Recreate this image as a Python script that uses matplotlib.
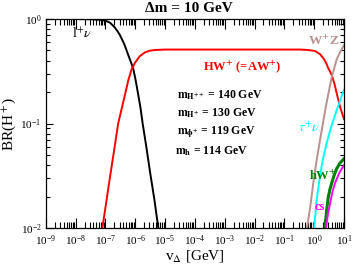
import matplotlib
matplotlib.use("Agg")
import matplotlib.pyplot as plt
import numpy as np
from matplotlib.ticker import LogLocator, LogFormatterMathtext, NullFormatter

plt.rcParams["font.family"] = ["Liberation Serif", "DejaVu Serif"]
plt.rcParams["mathtext.fontset"] = "stix"

# curves, x given as log10(v_Delta / GeV)
LNU_LOGV = [-9.0, -8.0, -7.5, -7.2, -7.0, -6.84, -6.7, -6.6, -6.51, -6.42, -6.35, -6.23, -6.14,
            -6.06, -5.98, -5.9, -5.82, -5.75, -5.62, -5.5, -5.36, -5.225]
LNU_BR = [1.0, 1.0, 0.995, 0.985, 0.965, 0.92, 0.84, 0.77, 0.70, 0.62, 0.56, 0.45, 0.385,
          0.33, 0.255, 0.19, 0.14, 0.10, 0.058, 0.034, 0.019, 0.01]

HW_LOGV = [-7.10, -7.0, -6.85, -6.7, -6.57, -6.45, -6.34, -6.23, -6.12, -6.01, -5.85, -5.67,
           -5.5, -5.34, -5.0, -4.0, -2.0, -1.0, -0.47, -0.2, 0.03, 0.2, 0.31, 0.4, 0.47, 0.59,
           0.68, 0.755, 0.866, 1.0]
HW_BR = [0.01, 0.0155, 0.030, 0.057, 0.10, 0.14, 0.19, 0.26, 0.33, 0.38, 0.44, 0.48,
         0.498, 0.505, 0.51, 0.51, 0.51, 0.51, 0.51, 0.505, 0.494, 0.46, 0.42, 0.38, 0.34, 0.29,
         0.24, 0.195, 0.145, 0.11]

WZ_LOGV = [-0.24, -0.13, -0.03, 0.08, 0.195, 0.31, 0.42, 0.59, 0.755, 0.88, 1.0]
WZ_BR = [0.01, 0.016, 0.027, 0.044, 0.069, 0.107, 0.16, 0.28, 0.41, 0.49, 0.56]

TAU_LOGV = [0.0, 0.085, 0.17, 0.25, 0.33, 0.42, 0.53, 0.64, 0.72, 0.81, 0.9, 1.0]
TAU_BR = [0.01, 0.0186, 0.028, 0.039, 0.051, 0.065, 0.085, 0.107, 0.126, 0.148, 0.176, 0.21]

HWP_LOGV = [0.36, 0.42, 0.475, 0.53, 0.59, 0.67, 0.755, 0.87, 1.0]
HWP_BR = [0.01, 0.015, 0.020, 0.0235, 0.027, 0.032, 0.037, 0.042, 0.046]

CS_LOGV = [0.40, 0.46, 0.53, 0.61, 0.70, 0.85, 1.0]
CS_BR = [0.01, 0.0135, 0.017, 0.022, 0.027, 0.034, 0.040]

MASS_LINES = [r"$\mathbf{m_{H^{++}}}$ = 140 GeV",
              r"$\mathbf{m_{H^{+}}}$ = 130 GeV",
              r"$\mathbf{m_{\phi^{+}}}$ = 119 GeV",
              r"$\mathbf{m_{h}}$ = 114 GeV"]


def pix(px, py):
    # reference pixel -> axes fraction
    return (px - 45.7) / 298.3, (228.0 - py) / 209.0


def main():
    fig = plt.figure(figsize=(3.54, 2.67), dpi=100)
    ax = fig.add_axes([45.7 / 354, 39 / 267, 298.3 / 354, 209 / 267])

    curves = [
        (LNU_LOGV, LNU_BR, "black", 1.4),
        (HW_LOGV, HW_BR, "red", 1.4),
        (WZ_LOGV, WZ_BR, "#bc8f8f", 1.4),
        (TAU_LOGV, TAU_BR, "cyan", 1.4),
        (HWP_LOGV, HWP_BR, "green", 2.2),
        (CS_LOGV, CS_BR, "magenta", 1.4),
    ]
    for logv, br, color, lw in curves:
        ax.plot(10.0 ** np.array(logv), br, color=color, lw=lw)

    ax.set_xscale("log")
    ax.set_yscale("log")
    ax.set_xlim(1e-9, 1e1)
    ax.set_ylim(1e-2, 1.0)

    ax.xaxis.set_major_locator(LogLocator(base=10, numticks=20))
    ax.xaxis.set_minor_locator(LogLocator(base=10, subs=np.arange(2, 10), numticks=200))
    ax.xaxis.set_major_formatter(LogFormatterMathtext())
    ax.xaxis.set_minor_formatter(NullFormatter())
    ax.yaxis.set_major_formatter(LogFormatterMathtext())
    ax.yaxis.set_minor_formatter(NullFormatter())
    ax.tick_params(which="both", direction="in", top=True, right=True, labelsize=8, width=0.8)
    ax.tick_params(axis="x", which="major", length=7, pad=4)
    ax.tick_params(axis="x", which="minor", length=4.5)
    ax.tick_params(axis="y", which="major", length=5, pad=3)
    ax.tick_params(axis="y", which="minor", length=3)
    for spine in ax.spines.values():
        spine.set_linewidth(0.9)

    ax.set_xlabel(r"v$_\Delta$ [GeV]", fontsize=11, labelpad=0)
    ax.set_ylabel(r"BR(H$^+$)", fontsize=11, labelpad=2)
    fig.text(189 / 354, 1 - 8.5 / 267, "Δm = 10 GeV", ha="center", va="center",
             fontsize=11, fontweight="bold")

    labels = [
        (72, 38, r"l$^{+}$$\nu$", "black", "normal", 10),
        (203, 70, r"HW$^{\mathbf{+}}$ (=AW$^{\mathbf{+}}$)", "red", "bold", 9),
        (308, 45, r"W$^{\mathbf{+}}$Z", "#bc8f8f", "bold", 9.5),
        (298, 132, r"$\tau^{+}\nu$", "cyan", "normal", 10),
        (309, 180, r"hW$^{\mathbf{+}}$", "green", "bold", 9),
        (315, 210, "cs", "magenta", "bold", 9),
    ]
    for px, py, text, color, weight, size in labels:
        x, y = pix(px, py)
        ax.text(x, y, text, transform=ax.transAxes, color=color, fontsize=size,
                fontweight=weight, va="baseline")

    for (px, py), text in zip([(177, 98), (177, 116), (177, 134), (175, 154)], MASS_LINES):
        x, y = pix(px, py)
        ax.text(x, y, text, transform=ax.transAxes, fontsize=8.5, fontweight="bold", va="baseline")

    fig.savefig("out.png", dpi=100)
    plt.close(fig)


if __name__ == "__main__":
    main()
